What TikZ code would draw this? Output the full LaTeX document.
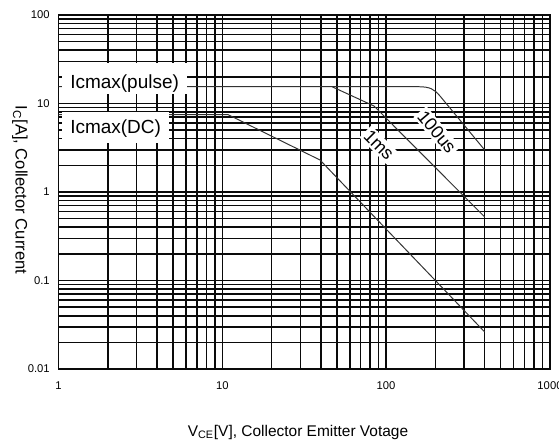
\documentclass[tikz,border=0pt]{standalone}
\usepackage{fontspec}
\setmainfont{Liberation Sans}
\definecolor{gridblack}{RGB}{10,10,10}
\definecolor{curvegray}{RGB}{50,50,50}
\usepackage{tikz}

\begin{document}
\begin{tikzpicture}[x=0.025cm, y=-0.025cm,
    rejilla/.style={gridblack, line width=1.1pt},
    curva/.style={curvegray, line width=0.7pt},
    etiqueta/.style={fill=white, inner sep=1.5pt},
    numero/.style={inner sep=0pt, font=\fontsize{8}{9}\selectfont},
    titulo/.style={inner sep=0pt, font=\fontsize{11}{13}\selectfont}]

    % Marco de la imagen
    \useasboundingbox (0,0) rectangle (559,443);

    % Rejilla logarítmica vertical (1 V a 1000 V)
    \foreach \d in {0,1,2} {
        \foreach \m in {1,...,9} {
            \draw[rejilla] ({58.5+163.8*(\d+log10(\m))},15) -- ++(0,354);
        }
    }

    % Rejilla logarítmica horizontal (0.01 A a 100 A)
    \foreach \d in {-2,...,1} {
        \foreach \m in {1,...,9} {
            \draw[rejilla] (58.5,{192-88.5*(\d+log10(\m))}) -- (550,{192-88.5*(\d+log10(\m))});
        }
    }
    \draw[rejilla, line width=1.3pt] (58.5,15) rectangle (550,369);

    % Etiquetas de las curvas de pulso
    \node[etiqueta, rotate=-45, font=\fontsize{12.8}{14}\selectfont] (unms) at (379,145) {1ms};
    \node[etiqueta, rotate=-50, font=\fontsize{12.8}{14}\selectfont] (cienus) at (437,132) {100us};

    % Curvas: pulso 100us, 1ms y DC
    \draw[curva] (58.5,86.7) -- (418,86.7) .. controls (430,86.7) and (434,89) .. (440,96) -- (484.7,150);
    \draw[curva] (332,86.7) -- (374,106) -- (484.7,217);
    \draw[curva] (58.5,114.6) -- (228,114.6) -- (320,160) -- (484.7,332);

    % Etiquetas de corriente máxima
    \node[etiqueta, anchor=base west, inner xsep=0.2cm, inner ysep=0pt,
          text height=0.62cm, text depth=0.15cm, font=\fontsize{13.5}{15}\selectfont]
          (pulso) at (62,88) {Icmax(pulse)};
    \node[etiqueta, anchor=base west, inner xsep=0.2cm, inner ysep=0pt,
          text height=0.52cm, text depth=0.25cm, font=\fontsize{13.5}{15}\selectfont]
          (dc) at (62,133) {Icmax(DC)};

    % Números de los ejes
    \foreach \y/\txt [count=\i] in {15/100, 103.5/10, 192/1, 280.5/0.1, 369/0.01} {
        \node[numero, anchor=east] (ejey\i) at (50,\y) {\txt};
    }
    \foreach \x/\txt [count=\i] in {58.5/1, 222.3/10, 386.1/100, 550/1000} {
        \node[numero] (ejex\i) at (\x,386) {\txt};
    }

    % Títulos de los ejes
    \node[titulo, rotate=-90, font=\fontsize{11.8}{13}\selectfont] (tituloy) at (20,190) {I\textsubscript{C}[A], Collector Current};
    \node[titulo] (titulox) at (298,432) {V\textsubscript{CE}[V], Collector Emitter Votage};
\end{tikzpicture}
\end{document}
